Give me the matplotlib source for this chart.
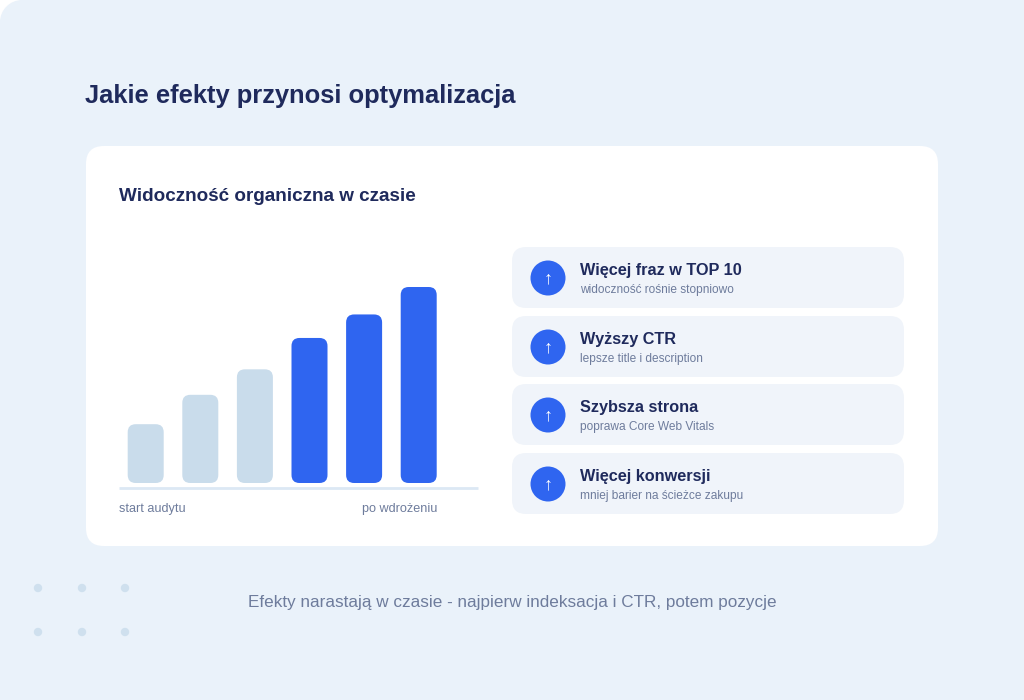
import matplotlib
matplotlib.use("Agg")
import matplotlib.pyplot as plt
from matplotlib.patches import FancyBboxPatch, Circle, PathPatch
from matplotlib.path import Path
import numpy as np

# ---- data ----
title = "Jakie efekty przynosi optymalizacja"
chart_title = "Widoczność organiczna w czasie"
bar_values = [30, 45, 58, 74, 86, 100]
bar_phase = ["before", "before", "before", "after", "after", "after"]
axis_left_label = "start audytu"
axis_right_label = "po wdrożeniu"
card_titles = ["Więcej fraz w TOP 10", "Wyższy CTR", "Szybsza strona", "Więcej konwersji"]
card_subtitles = ["widoczność rośnie stopniowo", "lepsze title i description",
                  "poprawa Core Web Vitals", "mniej barier na ścieżce zakupu"]
footer = "Efekty narastają w czasie - najpierw indeksacja i CTR, potem pozycje"

# ---- style ----
BG = "#EAF2FA"
NAVY = "#1F2A5C"
GREY = "#6E7C9C"
LIGHT = "#C9DCEB"
BLUE = "#2F65F0"
CARD = "#F0F4FA"
plt.rcParams['font.family'] = ['Liberation Sans', 'DejaVu Sans']

W, H = 1024, 700
fig = plt.figure(figsize=(W / 100, H / 100), dpi=100)
fig.patch.set_facecolor("white")
bg = fig.add_axes([0, 0, 1, 1])
bg.set_xlim(0, W)
bg.set_ylim(H, 0)
bg.axis("off")

# outer background with rounded top-left corner
r = 22
k = 0.5523 * r
verts = [(r, 0), (W, 0), (W, H), (0, H), (0, r),
         (0, r - k), (r - k, 0), (r, 0), (r, 0)]
codes = [Path.MOVETO, Path.LINETO, Path.LINETO, Path.LINETO, Path.LINETO,
         Path.CURVE4, Path.CURVE4, Path.CURVE4, Path.CLOSEPOLY]
bg.add_patch(PathPatch(Path(verts, codes), facecolor=BG, edgecolor="none"))

bg.text(85, 103, title, fontsize=18.4, fontweight="bold", color=NAVY, va="baseline")

# white card
bg.add_patch(FancyBboxPatch((86, 146), 852, 400,
                            boxstyle="round,pad=0,rounding_size=18",
                            facecolor="white", edgecolor="none"))
bg.text(119, 201, chart_title, fontsize=13.6, fontweight="bold", color=NAVY, va="baseline")

# baseline of chart
bg.plot([119, 478], [488, 488], color="#DCE8F4", lw=2, solid_capstyle="butt")
bg.text(119, 512, axis_left_label, fontsize=9.1, color=GREY, va="baseline", ha="left")
bg.text(437, 512, axis_right_label, fontsize=9.1, color=GREY, va="baseline", ha="right")

# side cards
card_x, card_w, card_h = 512, 392, 61
card_tops = [247, 316, 384, 453]
for t, (ct, cs) in zip(card_tops, zip(card_titles, card_subtitles)):
    bg.add_patch(FancyBboxPatch((card_x, t), card_w, card_h,
                                boxstyle="round,pad=0,rounding_size=14",
                                facecolor=CARD, edgecolor="none"))
    cy = t + 31
    bg.add_patch(Circle((548, cy), 17.5, facecolor=BLUE, edgecolor="none"))
    bg.text(548, cy + 1, "↑", fontsize=13, color="white", ha="center", va="center",
            family=["Liberation Sans", "DejaVu Sans"])
    bg.text(580, t + 28, ct, fontsize=11.7, fontweight="bold", color=NAVY, va="baseline")
    bg.text(580, t + 46, cs, fontsize=8.6, color=GREY, va="baseline")

# footer
bg.text(512, 607, footer, fontsize=12.3, color=GREY, ha="center", va="baseline")
for dy in (588, 632):
    for dx in (38, 82, 125):
        bg.add_patch(Circle((dx, dy), 4.2, facecolor="#CFE0EE", edgecolor="none"))

# ---- bar chart axes ----
px_per_step = 54.6
ax_left, ax_right = 119, 478
base_y, top_px = 483, 196
ax = fig.add_axes([ax_left / W, (H - base_y) / H, (ax_right - ax_left) / W, top_px / H])
ax.set_xlim(-26.7 / px_per_step, -26.7 / px_per_step + (ax_right - ax_left) / px_per_step)
ax.set_ylim(0, 100)
ax.axis("off")
ax.patch.set_alpha(0)
x = np.arange(len(bar_values))
colors = [LIGHT if p == "before" else BLUE for p in bar_phase]
bars = ax.bar(x, bar_values, width=36 / px_per_step, color=colors)
y_per_px = 100 / top_px
x_per_px = 1 / px_per_step
aspect = y_per_px / x_per_px
for b, c in zip(bars, colors):
    b.set_visible(False)
    ax.add_patch(FancyBboxPatch((b.get_x(), b.get_y()), b.get_width(), b.get_height(),
                                boxstyle=f"round,pad=0,rounding_size={8 * x_per_px}",
                                mutation_aspect=aspect, facecolor=c, edgecolor="none"))

fig.savefig("out.png", dpi=100, facecolor=fig.get_facecolor())
